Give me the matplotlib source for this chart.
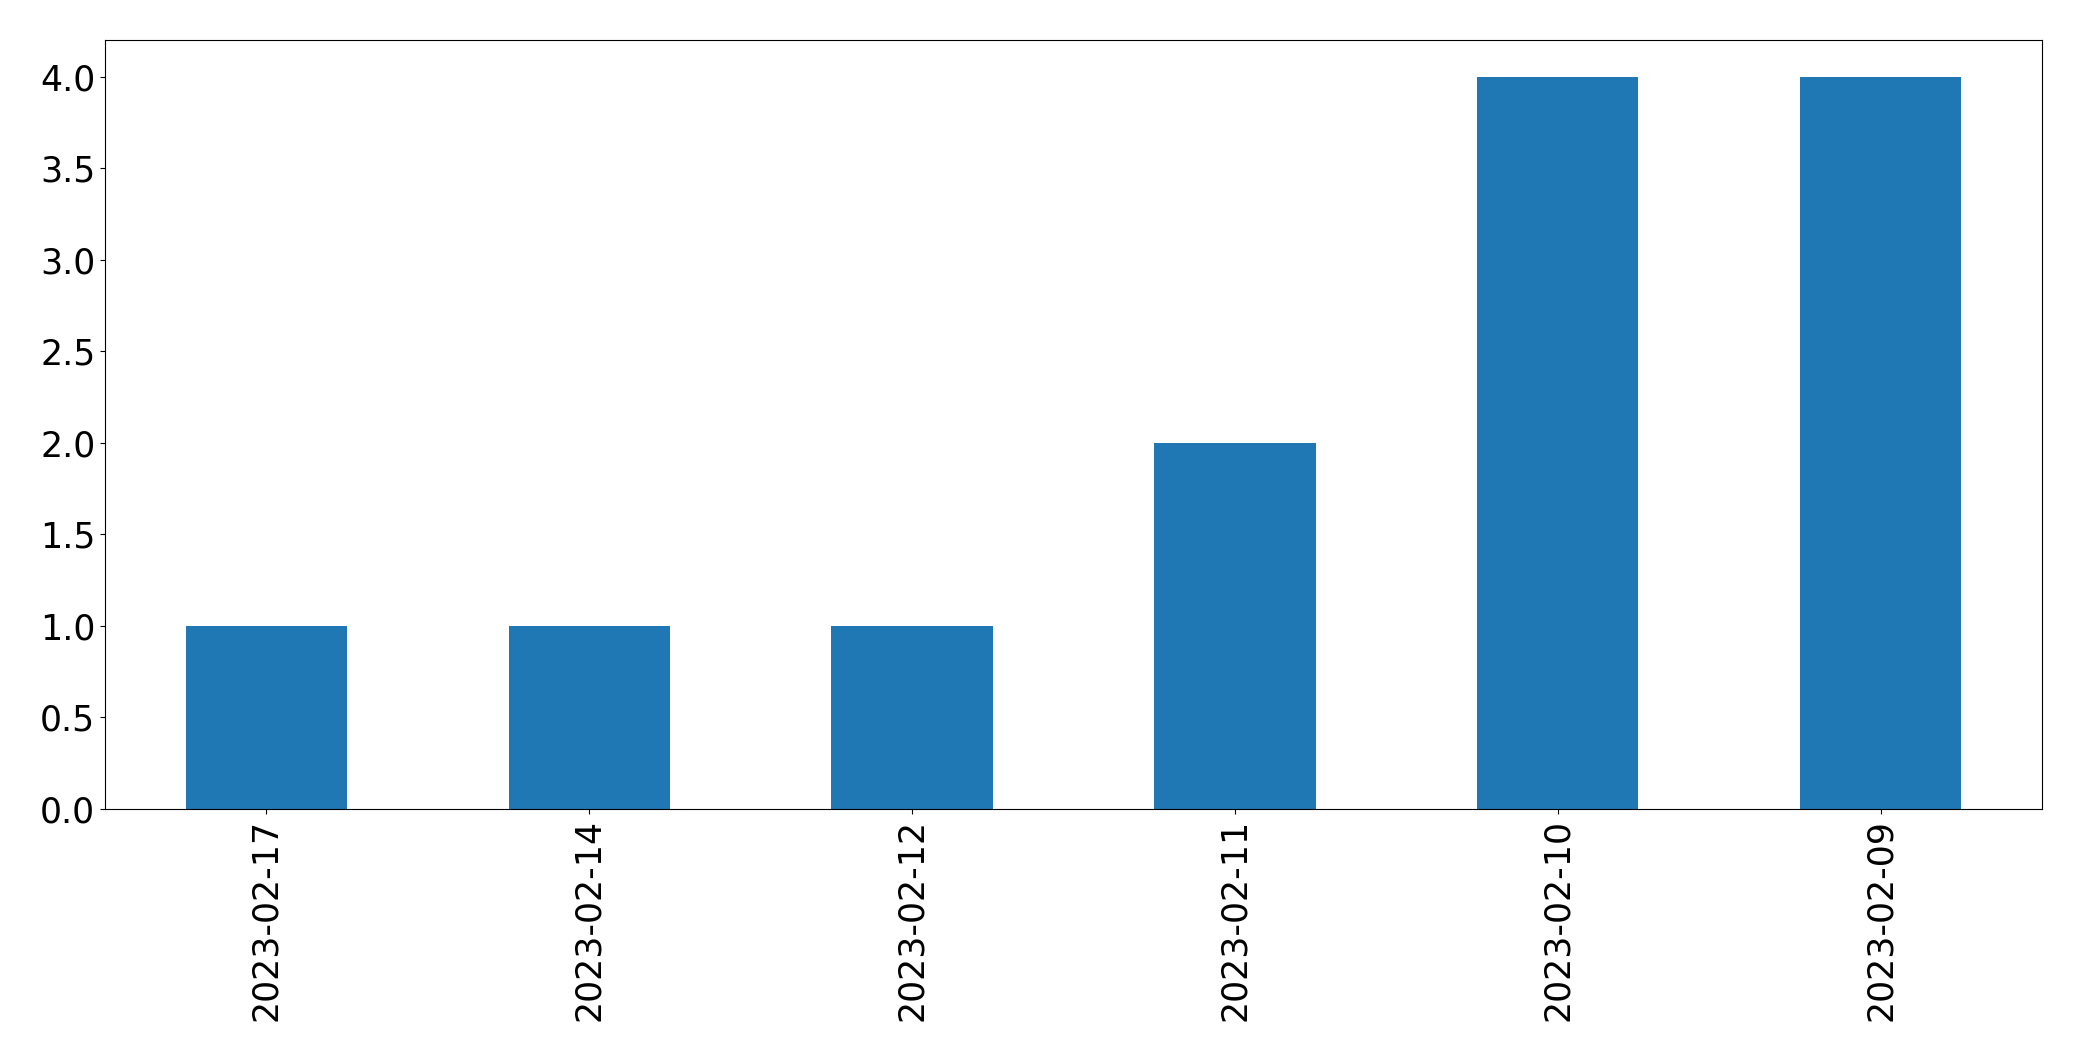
import matplotlib
matplotlib.use("Agg")
import matplotlib.pyplot as plt

dates = ["2023-02-17", "2023-02-14", "2023-02-12", "2023-02-11", "2023-02-10", "2023-02-09"]
counts = [1, 1, 1, 2, 4, 4]

fig = plt.figure(figsize=(20.82, 10.61), dpi=100)
ax = fig.add_axes([105/2082, 1 - 809/1061, (2042-105)/2082, (809-40)/1061])
x = list(range(len(dates)))
ax.bar(x, counts, width=0.5, color="#1f77b4")
ax.set_xlim(-0.5, len(dates) - 0.5)
ax.set_ylim(0, 4.2)
ax.set_xticks(x)
ax.set_xticklabels(dates, rotation=90)
ax.tick_params(labelsize=25)
fig.savefig("out.png", dpi=100)
